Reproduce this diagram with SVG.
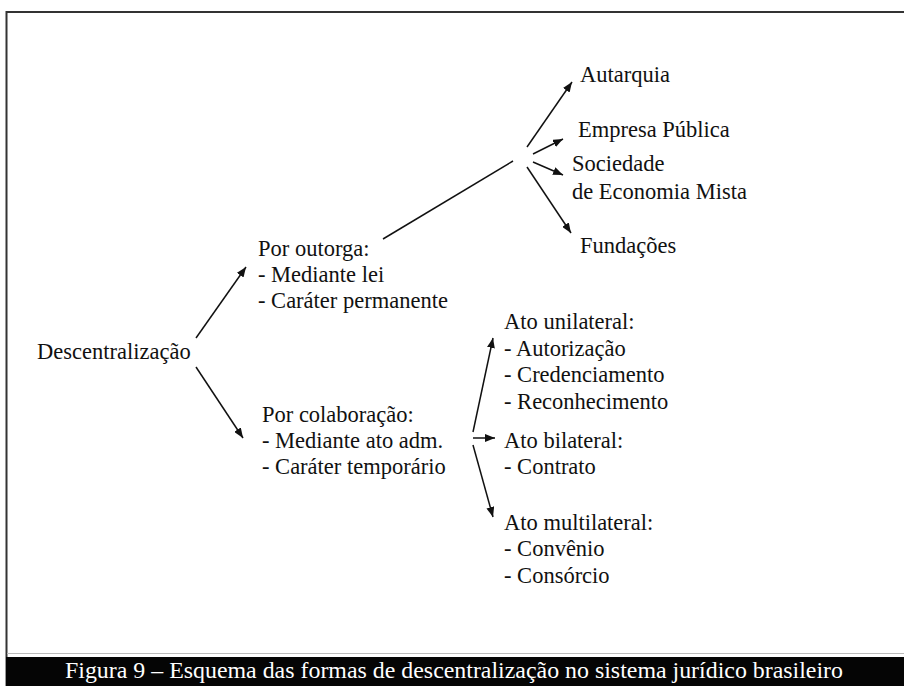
<svg xmlns="http://www.w3.org/2000/svg" width="904" height="686" viewBox="0 0 904 686">
<defs>
<marker id="ah" viewBox="0 0 10 8" refX="10" refY="4" markerWidth="10" markerHeight="8" markerUnits="userSpaceOnUse" orient="auto">
<path d="M0,0 L10,4 L0,8 Z" fill="#111"/>
</marker>
<style>
.c{stroke:#111;stroke-width:1.5;fill:none}
.a{marker-end:url(#ah)}
</style>
</defs>
<rect x="0" y="0" width="904" height="686" fill="#fff"/>
<path d="M6.5,686 V12 H904" fill="none" stroke="#333" stroke-width="2"/>
<line x1="7" y1="653.5" x2="904" y2="653.5" stroke="#bbb" stroke-width="1"/>
<rect x="6" y="657" width="898" height="29" fill="#050505"/>
<text x="454" y="678" text-anchor="middle" textLength="778" lengthAdjust="spacingAndGlyphs" font-family="Liberation Serif" font-size="24" fill="#fff">Figura 9 – Esquema das formas de descentralização no sistema jurídico brasileiro</text>

<g id="connectors">
<line class="c a" x1="196" y1="338" x2="246" y2="267"/>
<line class="c a" x1="196" y1="367" x2="243" y2="438"/>
<line class="c" x1="383" y1="239" x2="513" y2="161"/>
<line class="c a" x1="527" y1="147" x2="572" y2="82"/>
<line class="c a" x1="533" y1="154" x2="563" y2="139"/>
<line class="c a" x1="533" y1="162" x2="563" y2="175"/>
<line class="c a" x1="527" y1="167" x2="571" y2="233"/>
<line class="c a" x1="473" y1="432" x2="493" y2="338"/>
<line class="c a" x1="473" y1="438" x2="495" y2="438"/>
<line class="c a" x1="473" y1="445" x2="493" y2="517"/>
</g>

<g font-family="Liberation Serif" font-size="22.5" fill="#111">
<g id="descentralizacao"><text x="37" y="359">Descentralização</text></g>
<g id="por-outorga">
<text x="258" y="256">Por outorga:</text>
<text x="258" y="282">- Mediante lei</text>
<text x="258" y="308">- Caráter permanente</text>
</g>
<g id="por-colaboracao">
<text x="262" y="422">Por colaboração:</text>
<text x="262" y="448">- Mediante ato adm.</text>
<text x="262" y="474">- Caráter temporário</text>
</g>
<g id="autarquia"><text x="580" y="82">Autarquia</text></g>
<g id="empresa-publica"><text x="578" y="137">Empresa Pública</text></g>
<g id="sociedade"><text x="572" y="171">Sociedade</text><text x="572" y="199">de Economia Mista</text></g>
<g id="fundacoes"><text x="580" y="253">Fundações</text></g>
<g id="ato-unilateral">
<text x="504" y="329">Ato unilateral:</text>
<text x="504" y="356">- Autorização</text>
<text x="504" y="382">- Credenciamento</text>
<text x="504" y="409">- Reconhecimento</text>
</g>
<g id="ato-bilateral">
<text x="504" y="448">Ato bilateral:</text>
<text x="504" y="474">- Contrato</text>
</g>
<g id="ato-multilateral">
<text x="504" y="530">Ato multilateral:</text>
<text x="504" y="556">- Convênio</text>
<text x="504" y="583">- Consórcio</text>
</g>
</g>
</svg>
